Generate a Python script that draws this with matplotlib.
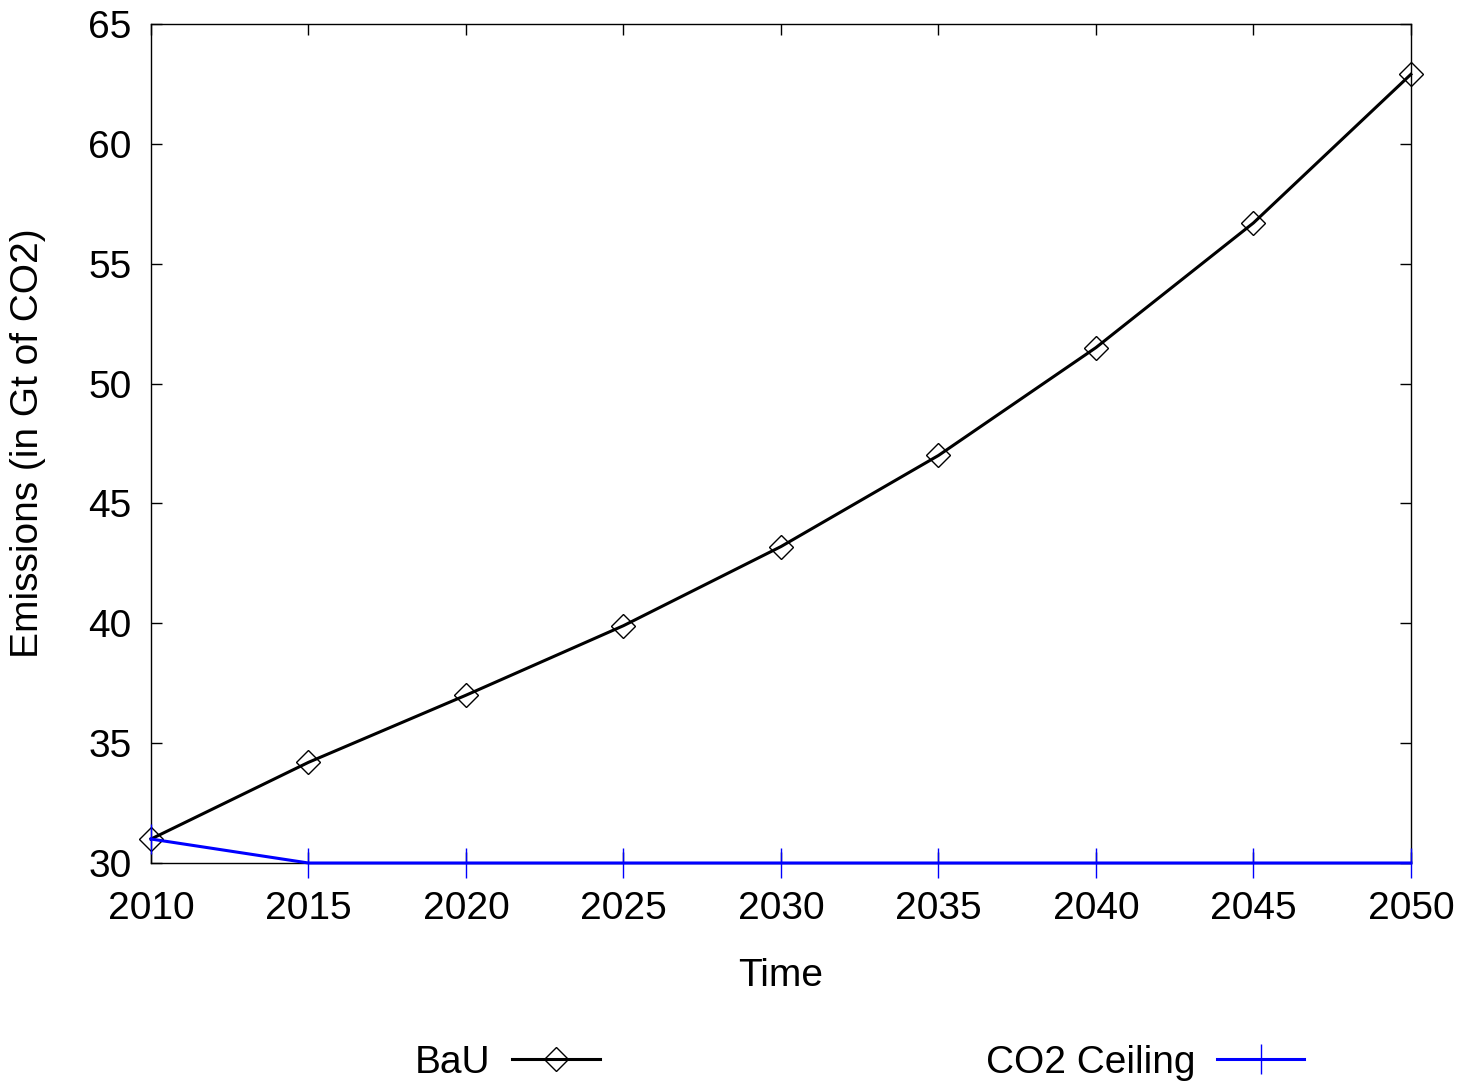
import numpy as np
import matplotlib.pyplot as plt

plt.rcParams['font.family'] = ['Liberation Sans', 'DejaVu Sans']

# data
years = [2010, 2015, 2020, 2025, 2030, 2035, 2040, 2045, 2050]
bau = [31.0, 34.2, 37.0, 39.9, 43.2, 47.0, 51.5, 56.7, 62.9]
ceiling = [31.0, 30, 30, 30, 30, 30, 30, 30, 30]

fig = plt.figure(figsize=(14.59, 10.82), dpi=100)
ax = fig.add_axes([0.1035, 0.2024, 0.8635, 0.7754])

l1, = ax.plot(years, bau, color='black', lw=2.2, marker='D', markersize=12,
              markerfacecolor='none', markeredgecolor='black', markeredgewidth=1,
              label='BaU', clip_on=False, zorder=3)
l2, = ax.plot(years, ceiling, color='blue', lw=2.2, marker='|', markersize=22,
              markeredgewidth=1, label='CO2 Ceiling', clip_on=False, zorder=4)

ax.set_xlim(2010, 2050)
ax.set_ylim(30, 65)
ax.set_xticks(years)
ax.set_yticks(np.arange(30, 66, 5))
ax.tick_params(axis='both', direction='in', length=8, width=1, labelsize=28,
               top=True, right=True)
ax.tick_params(axis='x', pad=20)
ax.tick_params(axis='y', pad=14)
for s in ax.spines.values():
    s.set_linewidth(1)

ax.set_xlabel('Time', fontsize=28)
ax.set_ylabel('Emissions (in Gt of CO2)', fontsize=28)
ax.xaxis.set_label_coords(0.5, -0.113)
ax.yaxis.set_label_coords(-0.083, 0.5)

# two legend entries, text before the sample, as in gnuplot
for h, xr in [(l1, 0.411), (l2, 0.894)]:
    fig.legend(handles=[h], loc='center right', bbox_to_anchor=(xr, 0.018),
               frameon=False, markerfirst=False, fontsize=28,
               handlelength=2.25, handletextpad=0.55, borderpad=0,
               borderaxespad=0)

plt.savefig('out.png', dpi=100)
